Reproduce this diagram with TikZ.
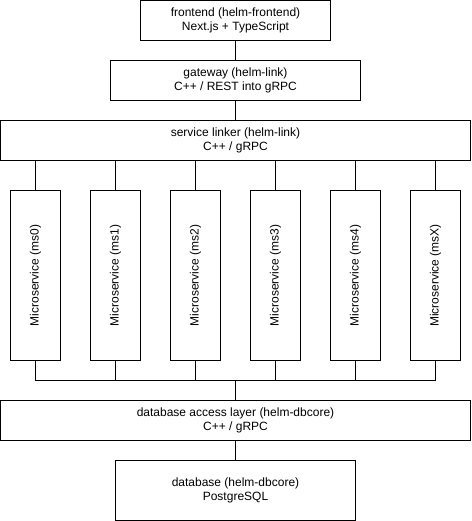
\documentclass[tikz,border=0pt]{standalone}
\usepackage{graphicx}
\usepackage{fontspec}
\setmainfont{Liberation Sans}
\tikzset{
    layer/.style={draw, line width=1pt, fill=white, align=center, inner sep=0pt,
        minimum height=40pt, font=\fontsize{12}{14}\selectfont},
    service/.style={draw, line width=1pt, fill=white, inner sep=0pt,
        minimum width=50pt, minimum height=170pt, font=\fontsize{12}{14}\selectfont},
    link/.style={line width=1pt}
}
\begin{document}
\begin{tikzpicture}[x=1pt, y=-1pt]
    \useasboundingbox (-0.5, -0.5) rectangle (470.5, 520.5);

    % Nodes
    \node[layer, minimum width=190pt] (Frontend) at (235, 20) {frontend (helm-frontend)\\Next.js + TypeScript};
    \node[layer, minimum width=250pt] (Gateway) at (235, 80) {gateway (helm-link)\\C++ / REST into gRPC};
    \node[layer, minimum width=470pt] (Linker) at (235, 140) {service linker (helm-link)\\C++ / gRPC};
    \foreach \i/\n in {0/ms0, 1/ms1, 2/ms2, 3/ms3, 4/ms4, 5/msX}
        \node[service] (MS\i) at (35 + 80*\i, 275) {\rotatebox{90}{Microservice (\n)}};
    \coordinate (Bus) at (235, 380);
    \node[layer, minimum width=470pt] (DBCore) at (235, 420) {database access layer (helm-dbcore)\\C++ / gRPC};
    \node[layer, minimum width=240pt, minimum height=60pt] (DB) at (235, 490) {database (helm-dbcore)\\PostgreSQL};

    % Connectors
    \draw[link] (Frontend) -- (Gateway);
    \draw[link] (Gateway) -- (Linker);
    \foreach \i in {0,...,5} {
        \draw[link] (Linker.south -| MS\i.north) -- (MS\i.north);
        \draw[link] (MS\i.south) |- (Bus);
    }
    \draw[link] (Bus) -- (DBCore);
    \draw[link] (DBCore) -- (DB);
\end{tikzpicture}
\end{document}
